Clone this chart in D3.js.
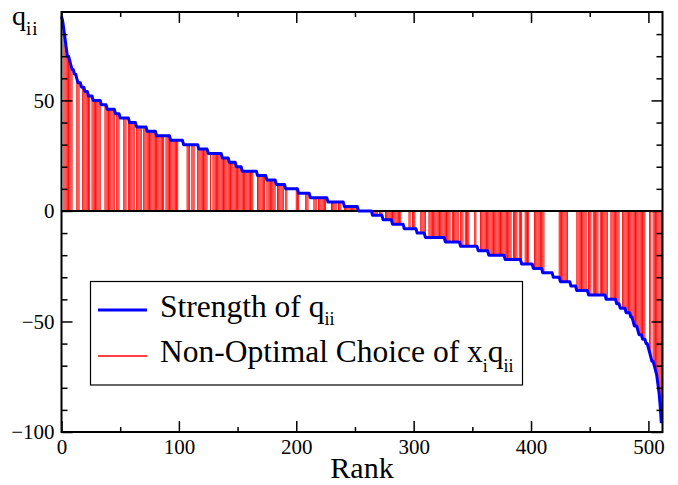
<!DOCTYPE html>
<html>
<head>
<meta charset="utf-8">
<script src="https://cdn.jsdelivr.net/npm/d3@7"></script>
<style>
  body { margin: 0; background: #fff; }
  svg { display: block; font-family: "Liberation Serif", "Times New Roman", serif; }
</style>
</head>
<body>
<div id="chart"></div>
<script>
// DATA
////////////////////////////
// q_ii sorted by rank: each level holds from its start rank
var levelValues = [88, 86, 82, 78, 74, 70, 68, 66, 64, 62, 60, 58, 56, 54, 52, 50, 48, 46, 44, 42,
                   40, 38, 36, 34, 32, 30, 28, 26, 24, 22, 20, 18, 16, 14, 12, 10, 8, 6, 4, 2,
                   0, -2, -4, -6, -8, -10, -12, -14, -16, -18, -20, -22, -24, -26, -28, -30, -32, -34, -36, -38,
                   -40, -42, -44, -46, -48, -50, -52, -54, -56, -58, -60, -62, -64, -66, -68, -70, -72, -74,
                   -78, -82, -88, -96];
var levelStarts = [0, 1, 2, 3, 4, 5, 7, 8, 9, 11, 13, 14, 17, 20, 23, 27, 34, 39, 46, 50,
                   58, 64, 73, 81, 93, 104, 117, 125, 137, 143, 149, 154, 167, 175, 183, 191, 202, 212, 227, 241,
                   253, 265, 274, 282, 292, 303, 310, 327, 340, 355, 364, 378, 392, 402, 410, 419, 425, 434, 439, 449,
                   464, 473, 476, 481, 485, 487, 488, 491, 492, 495, 498, 500, 501, 502, 503, 505, 506, 507,
                   508, 509, 510, 511];
var nRanks = 512;

// ranks (inclusive ranges) where the choice of x_i q_ii was non-optimal (red sticks)
var redRanges = [[2, 9], [13, 15], [18, 19], [20, 24], [26, 27], [28, 33], [37, 45], [47, 49], [53, 55],
                 [57, 62], [64, 68], [70, 81], [82, 87], [89, 92], [93, 99], [107, 109], [111, 113],
                 [116, 120], [121, 124], [127, 127], [129, 142], [143, 154], [155, 163], [167, 173],
                 [175, 182], [184, 189], [191, 192], [200, 202], [208, 210], [215, 217], [219, 225],
                 [230, 234], [236, 238], [241, 252],
                 [266, 269], [271, 273], [276, 289], [296, 297], [299, 301], [306, 310], [313, 327],
                 [328, 331], [333, 338], [340, 342], [344, 347], [352, 353], [357, 377], [378, 383],
                 [385, 388], [390, 392], [395, 398], [403, 411], [424, 431], [439, 447], [449, 451],
                 [453, 457], [459, 465], [468, 475], [478, 483], [484, 487], [488, 497], [501, 502],
                 [504, 507], [508, 511]];

var xMajorTicks = [0, 100, 200, 300, 400, 500];
var xMinorTicks = [50, 150, 250, 350, 450];
var yMajorTicks = [-100, -50, 0, 50];
var yMinorTicks = [-90, -80, -70, -60, -40, -30, -20, -10, 10, 20, 30, 40, 60, 70, 80];

// expand the steps to one value per rank
var q = [];
for (var r = 0; r < nRanks; r++) {
  var k = d3.bisectRight(levelStarts, r) - 1;
  q.push({rank: r, value: levelValues[k]});
}
var red = [];
redRanges.forEach(function(rg) {
  for (var r = rg[0]; r <= rg[1]; r++) red.push(q[r]);
});

// SETUP
////////////////////////////
var width = 678, height = 485;
var svg = d3.select("#chart").append("svg")
    .attr("width", width)
    .attr("height", height);

var x = d3.scaleLinear().domain([0, 512]).range([61.5, 662.5]);
var y = d3.scaleLinear().domain([-100, 90]).range([432, 12]);

// red sticks from 0 to q_ii
svg.append("g")
  .selectAll("line")
  .data(red).enter().append("line")
    .attr("x1", function(d) { return x(d.rank); })
    .attr("x2", function(d) { return x(d.rank); })
    .attr("y1", y(0))
    .attr("y2", function(d) { return y(d.value); })
    .attr("stroke", "#ff0000")
    .attr("stroke-width", 0.95);

// zero line
svg.append("line")
  .attr("x1", x(0)).attr("x2", x(512))
  .attr("y1", y(0)).attr("y2", y(0))
  .attr("stroke", "#000").attr("stroke-width", 2);

// strength of q_ii
var line = d3.line()
  .x(function(d) { return x(d.rank); })
  .y(function(d) { return y(d.value); });

svg.append("path")
  .datum(q)
  .attr("d", line)
  .attr("fill", "none")
  .attr("stroke", "#0000ff")
  .attr("stroke-width", 3)
  .attr("stroke-linejoin", "round");

// AXES (ticks inward on all four sides)
////////////////////////////
function styleAxis(g) {
  g.select(".domain").remove();
  g.selectAll(".tick line").attr("stroke", "#000").attr("stroke-width", 1.5);
  g.selectAll(".tick text").attr("font-size", "21px").attr("fill", "#000")
    .attr("font-family", "Liberation Serif, Times New Roman, serif");
}

svg.append("g").attr("transform", "translate(0," + y(-100) + ")")
  .call(d3.axisBottom(x).tickValues(xMajorTicks).tickSize(-11).tickSizeOuter(0).tickPadding(7))
  .call(styleAxis);
svg.append("g").attr("transform", "translate(0," + y(-100) + ")")
  .call(d3.axisBottom(x).tickValues(xMinorTicks).tickSize(-5).tickSizeOuter(0).tickFormat(""))
  .call(styleAxis);
svg.append("g").attr("transform", "translate(0," + y(90) + ")")
  .call(d3.axisTop(x).tickValues(xMajorTicks).tickSize(-11).tickSizeOuter(0).tickFormat(""))
  .call(styleAxis);
svg.append("g").attr("transform", "translate(0," + y(90) + ")")
  .call(d3.axisTop(x).tickValues(xMinorTicks).tickSize(-5).tickSizeOuter(0).tickFormat(""))
  .call(styleAxis);

svg.append("g").attr("transform", "translate(" + x(0) + ",0)")
  .call(d3.axisLeft(y).tickValues(yMajorTicks).tickSize(-11).tickSizeOuter(0).tickPadding(7))
  .call(styleAxis);
svg.append("g").attr("transform", "translate(" + x(0) + ",0)")
  .call(d3.axisLeft(y).tickValues(yMinorTicks).tickSize(-6).tickSizeOuter(0).tickFormat(""))
  .call(styleAxis);
svg.append("g").attr("transform", "translate(" + x(512) + ",0)")
  .call(d3.axisRight(y).tickValues(yMajorTicks).tickSize(-11).tickSizeOuter(0).tickFormat(""))
  .call(styleAxis);
svg.append("g").attr("transform", "translate(" + x(512) + ",0)")
  .call(d3.axisRight(y).tickValues(yMinorTicks).tickSize(-6).tickSizeOuter(0).tickFormat(""))
  .call(styleAxis);

// frame
svg.append("rect")
  .attr("x", x(0)).attr("y", y(90))
  .attr("width", x(512) - x(0)).attr("height", y(-100) - y(90))
  .attr("fill", "none").attr("stroke", "#000").attr("stroke-width", 2);

// axis titles
svg.append("text")
  .attr("x", (x(0) + x(512)) / 2).attr("y", 478)
  .attr("text-anchor", "middle")
  .attr("font-size", "30px")
  .text("Rank");

var ylab = svg.append("text").attr("x", 12).attr("y", 25).attr("font-size", "28px");
ylab.append("tspan").text("q");
ylab.append("tspan").attr("font-size", "19px").attr("dy", 10).attr("letter-spacing", "1px").text("ii");

// LEGEND
////////////////////////////
var legend = svg.append("g");
legend.append("rect")
  .attr("x", 90.5).attr("y", 281.5).attr("width", 432).attr("height", 103.5)
  .attr("fill", "#fff").attr("stroke", "#000").attr("stroke-width", 1.2);

legend.append("line")
  .attr("x1", 98).attr("x2", 147).attr("y1", 310).attr("y2", 310)
  .attr("stroke", "#0000ff").attr("stroke-width", 3);
legend.append("line")
  .attr("x1", 98).attr("x2", 147).attr("y1", 356).attr("y2", 356)
  .attr("stroke", "#ff0000").attr("stroke-width", 1.5);

var t1 = legend.append("text").attr("x", 160).attr("y", 316.5).attr("font-size", "31.5px");
t1.append("tspan").text("Strength of q");
t1.append("tspan").attr("font-size", "18px").attr("dy", 8).text("ii");

var t2 = legend.append("text").attr("x", 160).attr("y", 361.5).attr("font-size", "31.5px");
t2.append("tspan").text("Non-Optimal Choice of x");
t2.append("tspan").attr("font-size", "18px").attr("dy", 10).text("i");
t2.append("tspan").attr("dy", -10).text("q");
t2.append("tspan").attr("font-size", "18px").attr("dy", 10).text("ii");
</script>
</body>
</html>
